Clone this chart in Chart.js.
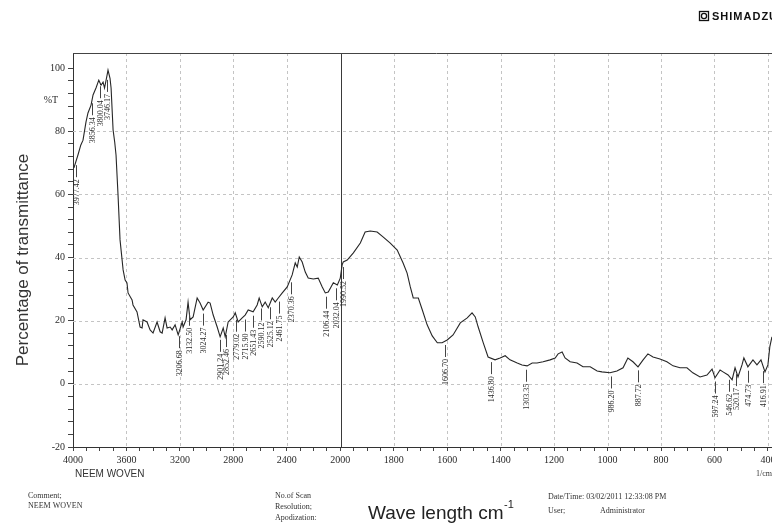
<!DOCTYPE html>
<html>
<head>
<meta charset="utf-8">
<script src="https://cdn.jsdelivr.net/npm/chart.js@4/dist/chart.umd.min.js"></script>
<style>
  html, body { margin: 0; padding: 0; background: #fff; overflow: hidden; width: 772px; height: 524px; }
  #wrap { position: absolute; left: 0; top: 0; width: 800px; height: 524px; }
</style>
</head>
<body>
<div id="wrap"><canvas id="ftir" width="800" height="524"></canvas></div>
<script>
// FTIR spectrum of the NEEM WOVEN sample: wavenumber (1/cm) and transmittance (%T)
const wavenumbers = [
  3993, 3963, 3942, 3925, 3903, 3888, 3865, 3850, 3828, 3807, 3790, 3775, 3764, 3745, 3738, 3723, 3715,
  3700, 3688, 3678, 3663, 3648, 3625, 3610, 3596, 3588, 3558, 3551, 3521, 3498, 3483, 3476, 3446, 3423,
  3401, 3371, 3348, 3333, 3311, 3296, 3273, 3258, 3236, 3213, 3183, 3176, 3154, 3139, 3124, 3101, 3071,
  3049, 3026, 2989, 2974, 2951, 2921, 2899, 2876, 2861, 2839, 2801, 2786, 2764, 2734, 2712, 2689, 2652,
  2622, 2607, 2584, 2562, 2539, 2509, 2487, 2464, 2434, 2397, 2360, 2337, 2322, 2307, 2285, 2262, 2240,
  2202, 2165, 2135, 2112, 2090, 2052, 2022, 2000,
  1993, 1989, 1974, 1951, 1925, 1907, 1888, 1862, 1839, 1813, 1787, 1765, 1750, 1738, 1727, 1708, 1693,
  1675, 1656, 1637, 1619, 1600, 1578, 1551, 1525, 1507, 1495, 1484, 1465, 1447, 1421, 1402, 1383, 1365,
  1338, 1320, 1301, 1282, 1264, 1241, 1215, 1196, 1185, 1170, 1159, 1140, 1114, 1092, 1065, 1039, 1021,
  991, 965, 942, 924, 905, 886, 867, 849, 830, 804, 778, 755, 729, 703, 681, 654, 628, 609, 598, 579, 568,
  549, 534, 523, 512, 497, 490, 475, 456, 441, 426, 411, 400, 393, 385
];
const transmittance = [
  68.4, 72.5, 75.6, 77.2, 82.9, 85.8, 88.3, 91.5, 93.7, 96.2, 94.6, 95.6, 93.7, 97.8, 99.4, 96.8, 93.7,
  80.4, 76.6, 72.5, 59.8, 45.6, 36.1, 32.9, 32.0, 28.8, 26.6, 25.0, 22.8, 18.0, 17.7, 20.3, 19.6, 17.1,
  16.1, 19.6, 16.5, 16.1, 20.9, 17.7, 18.0, 17.1, 18.7, 15.5, 19.6, 18.0, 20.3, 25.9, 20.3, 21.2, 27.2,
  25.6, 23.4, 25.9, 25.6, 21.8, 18.0, 14.9, 17.7, 14.9, 19.6, 21.2, 22.5, 19.6, 20.9, 21.8, 23.4, 22.8,
  25.0, 27.2, 24.4, 25.9, 24.1, 27.2, 25.9, 27.2, 28.8, 30.7, 34.5, 38.3, 37.0, 40.2, 38.6, 35.4, 33.5,
  33.2, 33.5, 30.7, 28.8, 29.1, 32.0, 31.3, 33.5,
  37.7, 38.6, 39.2, 41.5, 44.6, 48.1, 48.4, 48.1, 46.5, 44.6, 42.4, 38.3, 35.1, 30.7, 27.2, 27.2, 23.4,
  18.7, 15.2, 13.0, 13.0, 13.9, 15.5, 19.3, 20.9, 22.5, 21.2, 18.0, 13.0, 8.5, 7.6, 8.2, 8.9, 7.6,
  6.6, 6.0, 5.7, 6.6, 6.6, 7.0, 7.6, 8.2, 9.5, 10.1, 8.2, 7.0, 6.6, 5.4, 5.4, 4.1, 3.8,
  3.5, 4.1, 5.1, 8.2, 7.0, 5.4, 7.6, 9.5, 8.5, 7.9, 7.0, 5.7, 5.1, 5.1, 3.5, 2.2, 2.8, 4.7, 1.9, 4.4, 3.8,
  2.8, 1.3, 5.1, 2.2, 6.0, 8.2, 5.4, 7.6, 6.0, 7.6, 3.8, 6.0, 11.7, 14.9
];
// Labelled absorption peaks (1/cm)
const peakWavenumbers = [
  3977.42, 3856.34, 3800.04, 3746.17, 3206.68, 3132.50, 3024.27, 2901.24, 2852.46, 2779.02,
  2715.90, 2651.43, 2590.12, 2525.12, 2461.75, 2370.36, 2106.44, 2032.04, 1990.52, 1606.70,
  1436.80, 1303.35, 986.20, 887.72, 597.24, 546.62, 520.17, 474.73, 416.91
];
// Axis tick labels
const xTickValues = [4000, 3600, 3200, 2800, 2400, 2000, 1800, 1600, 1400, 1200, 1000, 800, 600, 400];
const yTickValues = [100, 80, 60, 40, 20, 0, -20];
const yGridValues = [80, 60, 40, 20, 0];

// The instrument plots 4000-2000 at 400 per division and 2000-400 at 200 per division.
function toPos(wn) {
  return wn >= 2000 ? (4000 - wn) / 400 : 5 + (2000 - wn) / 200;
}
// Transmittance at an arbitrary wavenumber, used to place peak annotations on the trace.
function valueAt(wn) {
  for (let i = 0; i < wavenumbers.length - 1; i++) {
    const a = wavenumbers[i], b = wavenumbers[i + 1];
    if (wn <= a && wn >= b) {
      const t = (a - wn) / (a - b);
      return transmittance[i] + t * (transmittance[i + 1] - transmittance[i]);
    }
  }
  return transmittance[transmittance.length - 1];
}

const points = wavenumbers.map((w, i) => ({ x: toPos(w), y: transmittance[i] }));

const SERIF = '"Liberation Serif", "DejaVu Serif", serif';
const SANS = '"Liberation Sans", Arial, sans-serif';

function seg(ctx, x1, y1, x2, y2) {
  ctx.beginPath(); ctx.moveTo(x1, y1); ctx.lineTo(x2, y2); ctx.stroke();
}

const decorations = {
  id: 'decorations',
  beforeDatasetsDraw(chart) {
    const { ctx, chartArea: a, scales: { x, y } } = chart;
    ctx.save();
    ctx.lineWidth = 1;
    ctx.strokeStyle = '#c4c4c4';
    ctx.setLineDash([3, 3]);
    xTickValues.forEach(v => {
      if (v === 4000 || v === 2000) return;
      const px = Math.round(x.getPixelForValue(toPos(v))) + 0.5;
      seg(ctx, px, a.top, px, a.bottom);
    });
    yGridValues.forEach(v => {
      const py = Math.round(y.getPixelForValue(v)) + 0.5;
      seg(ctx, a.left, py, a.right, py);
    });
    ctx.setLineDash([]);
    // scale change divider at 2000
    ctx.strokeStyle = '#3a3a3a';
    const dx = Math.round(x.getPixelForValue(toPos(2000))) + 1.5;
    seg(ctx, dx, a.top, dx, a.bottom);
    // upper frame
    ctx.strokeStyle = '#444';
    seg(ctx, a.left, Math.round(a.top) + 0.5, a.right, Math.round(a.top) + 0.5);
    ctx.restore();
  },
  afterDatasetsDraw(chart) {
    const { ctx, scales: { x, y } } = chart;
    ctx.save();
    ctx.strokeStyle = '#444';
    ctx.fillStyle = '#2b2b2b';
    ctx.lineWidth = 1;
    ctx.font = '8px ' + SERIF;
    peakWavenumbers.forEach(w => {
      const px = Math.round(x.getPixelForValue(toPos(w))) + 0.5;
      const py = y.getPixelForValue(valueAt(w));
      seg(ctx, px, py + 4, px, py + 16);
      ctx.save();
      ctx.translate(px, py + 18);
      ctx.rotate(-Math.PI / 2);
      ctx.textAlign = 'right';
      ctx.textBaseline = 'middle';
      ctx.fillText(w.toFixed(2), 0, 0);
      ctx.restore();
    });
    ctx.restore();
  },
  afterDraw(chart) {
    const { ctx } = chart;
    ctx.save();
    ctx.fillStyle = '#2a2a2a';
    ctx.textBaseline = 'middle';

    // %T unit beside the y axis
    ctx.font = '10px ' + SERIF;
    ctx.textAlign = 'center';
    ctx.fillText('%T', 51, 100);

    // y axis title
    ctx.save();
    ctx.translate(23, 260);
    ctx.rotate(-Math.PI / 2);
    ctx.font = '17px ' + SANS;
    ctx.fillStyle = '#333';
    ctx.fillText('Percentage of transmittance', 0, 0);
    ctx.restore();

    // x axis title with superscript
    ctx.textAlign = 'left';
    ctx.font = '19px ' + SANS;
    ctx.fillStyle = '#222';
    const main = 'Wave length cm';
    ctx.fillText(main, 368, 514);
    const mw = ctx.measureText(main).width;
    ctx.font = '11px ' + SANS;
    ctx.fillText('-1', 368 + mw + 0.5, 505);

    // sample name and unit under the axis
    ctx.fillStyle = '#333';
    ctx.font = '10px ' + SANS;
    ctx.fillText('NEEM WOVEN', 75, 474);
    ctx.font = '8px ' + SERIF;
    ctx.fillText('1/cm', 756, 474);

    // report footer
    ctx.font = '8px ' + SERIF;
    ctx.fillText('Comment;', 28, 496);
    ctx.fillText('NEEM WOVEN', 28, 506);
    ctx.fillText('No.of Scan', 275, 496);
    ctx.fillText('Resolution;', 275, 507);
    ctx.fillText('Apodization:', 275, 518);
    ctx.fillText('Date/Time: 03/02/2011 12:33:08 PM', 548, 497);
    ctx.fillText('User;', 548, 511);
    ctx.fillText('Administrator', 600, 511);

    // maker mark
    ctx.strokeStyle = '#111';
    ctx.lineWidth = 1.3;
    ctx.strokeRect(699.5, 11.5, 9, 9);
    ctx.beginPath(); ctx.arc(704, 16, 2.6, 0, Math.PI * 2); ctx.stroke();
    ctx.fillStyle = '#111';
    ctx.font = 'bold 11px ' + SANS;
    ctx.letterSpacing = '1px';
    ctx.fillText('SHIMADZU', 712, 16.5);
    ctx.restore();
  }
};

new Chart(document.getElementById('ftir'), {
  type: 'line',
  data: {
    datasets: [{
      data: points,
      borderColor: '#262626',
      borderWidth: 1.1,
      pointRadius: 0,
      tension: 0,
      fill: false
    }]
  },
  options: {
    responsive: false,
    animation: false,
    devicePixelRatio: 1,
    layout: { padding: { top: 53, left: 0, right: 0, bottom: 0 } },
    plugins: { legend: { display: false }, tooltip: { enabled: false } },
    scales: {
      x: {
        type: 'linear',
        min: 0,
        max: 13.6,
        afterBuildTicks(scale) {
          const t = [];
          for (let i = 0; i <= 54; i++) t.push({ value: i * 0.25 });
          scale.ticks = t;
        },
        afterFit(scale) { scale.height = 77; },
        ticks: {
          autoSkip: false,
          maxRotation: 0,
          padding: 3,
          color: '#2a2a2a',
          font: { family: SERIF, size: 10 },
          callback(value) {
            const hit = xTickValues.find(v => Math.abs(toPos(v) - value) < 1e-6);
            return hit === undefined ? '' : String(hit);
          }
        },
        grid: { drawOnChartArea: false, color: '#444', tickLength: 4 },
        border: { display: true, color: '#333', width: 1 }
      },
      y: {
        min: -20,
        max: 104.8,
        afterBuildTicks(scale) {
          const t = [];
          for (let v = -20; v <= 100; v += 4) t.push({ value: v });
          scale.ticks = t;
        },
        afterFit(scale) { scale.width = 73; },
        ticks: {
          autoSkip: false,
          padding: 3,
          color: '#2a2a2a',
          font: { family: SERIF, size: 10 },
          callback(value) {
            return yTickValues.includes(value) ? String(value) : '';
          }
        },
        grid: { drawOnChartArea: false, color: '#444', tickLength: 5 },
        border: { display: true, color: '#333', width: 1 }
      }
    }
  },
  plugins: [decorations]
});
</script>
</body>
</html>
